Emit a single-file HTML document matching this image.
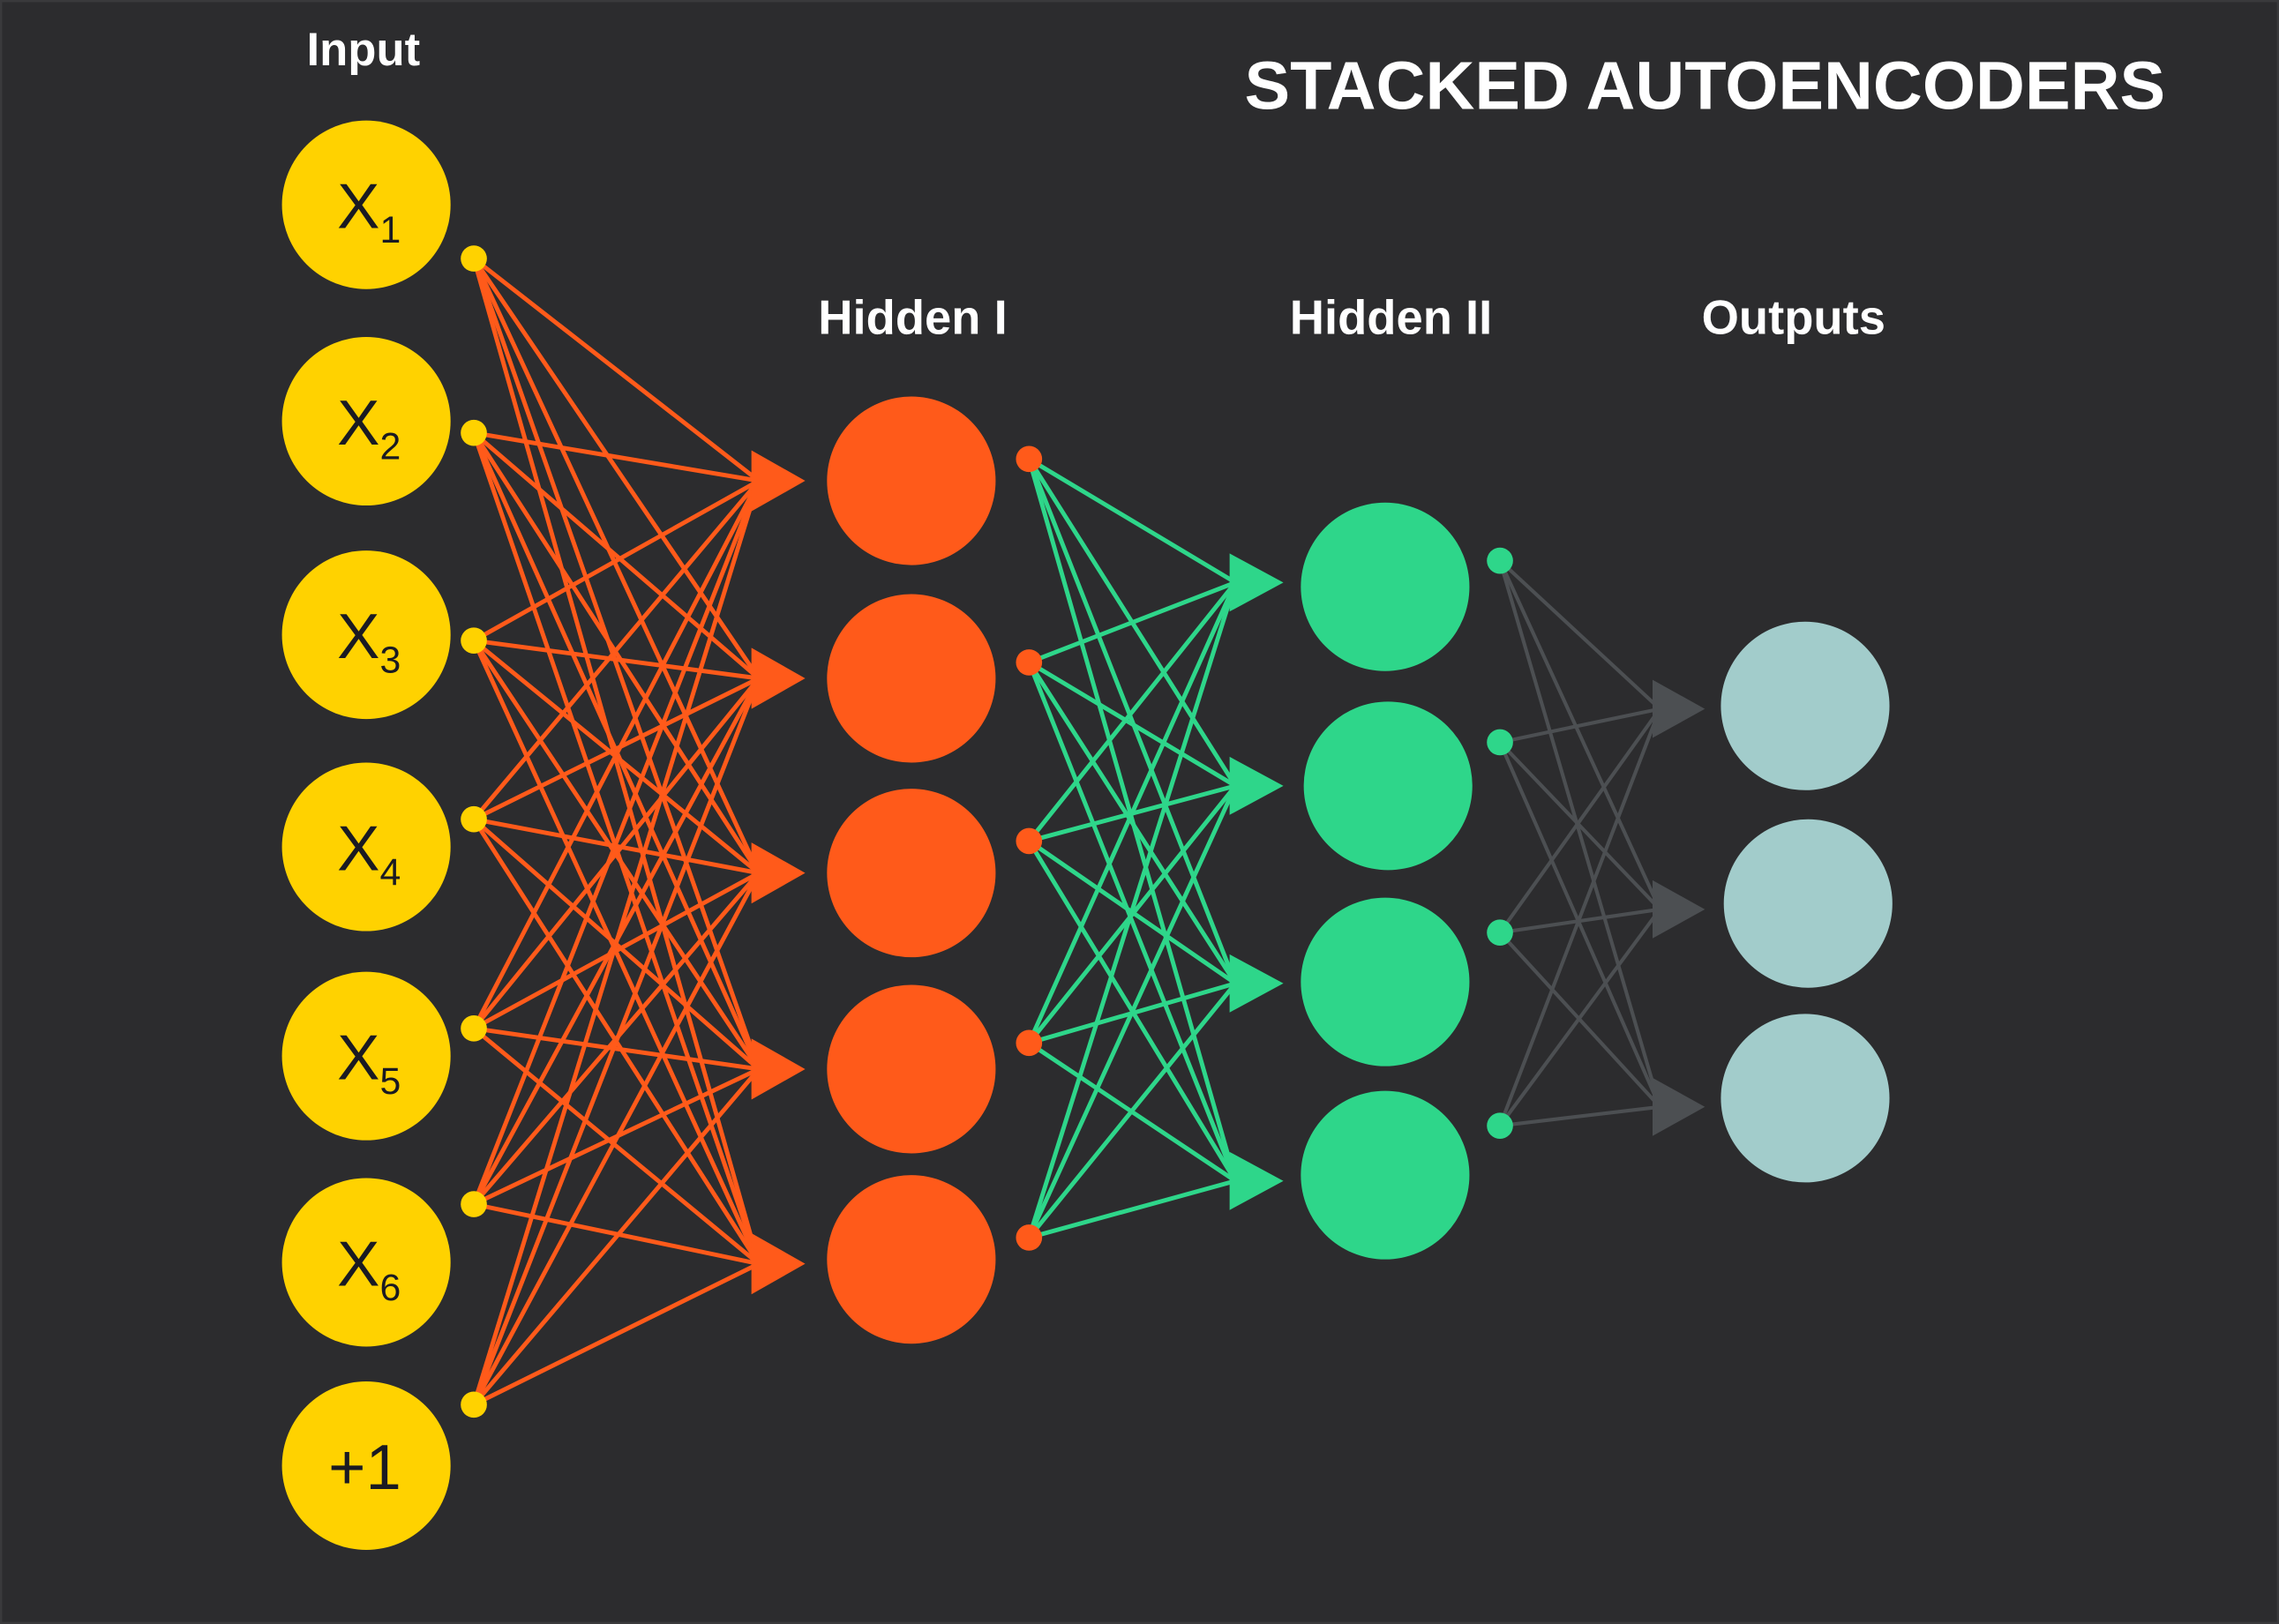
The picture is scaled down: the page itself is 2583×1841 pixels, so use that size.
<!DOCTYPE html>
<html><head><meta charset="utf-8"><style>
html,body{margin:0;padding:0;background:#2c2c2e;}
svg{display:block;}
text{font-family:"Liberation Sans",sans-serif;}
</style></head><body>
<svg width="2583" height="1841" viewBox="0 0 1568 1118" preserveAspectRatio="none" xmlns="http://www.w3.org/2000/svg">
<rect x="0" y="0" width="1568" height="1118" fill="#2c2c2e"/>
<rect x="0.5" y="0.5" width="1567" height="1117" fill="none" stroke="#3a3a3c" stroke-width="2"/>
<g fill="#fff" font-weight="bold">
<text x="250" y="45" font-size="32" text-anchor="middle">Input</text>
<text x="628" y="230" font-size="33" text-anchor="middle">Hidden I</text>
<text x="957" y="230" font-size="33" text-anchor="middle">Hidden II</text>
<text x="1234" y="230" font-size="33" text-anchor="middle">Outputs</text>
<text x="1173" y="75" font-size="47" text-anchor="middle">STACKED AUTOENCODERS</text>
</g>
<!-- orange lines -->
<g stroke="#ff5a1a" stroke-width="3">
<line x1="326" y1="178" x2="522" y2="331"/><line x1="326" y1="178" x2="522" y2="467"/><line x1="326" y1="178" x2="522" y2="601"/><line x1="326" y1="178" x2="522" y2="736"/><line x1="326" y1="178" x2="522" y2="870"/>
<line x1="326" y1="298" x2="522" y2="331"/><line x1="326" y1="298" x2="522" y2="467"/><line x1="326" y1="298" x2="522" y2="601"/><line x1="326" y1="298" x2="522" y2="736"/><line x1="326" y1="298" x2="522" y2="870"/>
<line x1="326" y1="441" x2="522" y2="331"/><line x1="326" y1="441" x2="522" y2="467"/><line x1="326" y1="441" x2="522" y2="601"/><line x1="326" y1="441" x2="522" y2="736"/><line x1="326" y1="441" x2="522" y2="870"/>
<line x1="326" y1="564" x2="522" y2="331"/><line x1="326" y1="564" x2="522" y2="467"/><line x1="326" y1="564" x2="522" y2="601"/><line x1="326" y1="564" x2="522" y2="736"/><line x1="326" y1="564" x2="522" y2="870"/>
<line x1="326" y1="708" x2="522" y2="331"/><line x1="326" y1="708" x2="522" y2="467"/><line x1="326" y1="708" x2="522" y2="601"/><line x1="326" y1="708" x2="522" y2="736"/><line x1="326" y1="708" x2="522" y2="870"/>
<line x1="326" y1="829" x2="522" y2="331"/><line x1="326" y1="829" x2="522" y2="467"/><line x1="326" y1="829" x2="522" y2="601"/><line x1="326" y1="829" x2="522" y2="736"/><line x1="326" y1="829" x2="522" y2="870"/>
<line x1="326" y1="967" x2="522" y2="331"/><line x1="326" y1="967" x2="522" y2="467"/><line x1="326" y1="967" x2="522" y2="601"/><line x1="326" y1="967" x2="522" y2="736"/><line x1="326" y1="967" x2="522" y2="870"/>
</g>
<g fill="#ff5a1a">
<polygon points="517,310 554,331 517,352"/><polygon points="517,446 554,467 517,488"/><polygon points="517,580 554,601 517,622"/><polygon points="517,715 554,736 517,757"/><polygon points="517,849 554,870 517,891"/>
</g>
<!-- green lines -->
<g stroke="#2ed68a" stroke-width="3">
<line x1="708" y1="316" x2="850" y2="401"/><line x1="708" y1="316" x2="850" y2="541"/><line x1="708" y1="316" x2="850" y2="677"/><line x1="708" y1="316" x2="850" y2="813"/>
<line x1="708" y1="456" x2="850" y2="401"/><line x1="708" y1="456" x2="850" y2="541"/><line x1="708" y1="456" x2="850" y2="677"/><line x1="708" y1="456" x2="850" y2="813"/>
<line x1="708" y1="579" x2="850" y2="401"/><line x1="708" y1="579" x2="850" y2="541"/><line x1="708" y1="579" x2="850" y2="677"/><line x1="708" y1="579" x2="850" y2="813"/>
<line x1="708" y1="718" x2="850" y2="401"/><line x1="708" y1="718" x2="850" y2="541"/><line x1="708" y1="718" x2="850" y2="677"/><line x1="708" y1="718" x2="850" y2="813"/>
<line x1="708" y1="852" x2="850" y2="401"/><line x1="708" y1="852" x2="850" y2="541"/><line x1="708" y1="852" x2="850" y2="677"/><line x1="708" y1="852" x2="850" y2="813"/>
</g>
<g fill="#2ed68a">
<polygon points="846,381 883,401 846,421"/><polygon points="846,521 883,541 846,561"/><polygon points="846,657 883,677 846,697"/><polygon points="846,793 883,813 846,833"/>
</g>
<!-- gray lines -->
<g stroke="#4c4f52" stroke-width="2.5">
<line x1="1032" y1="386" x2="1142" y2="488"/><line x1="1032" y1="386" x2="1142" y2="626"/><line x1="1032" y1="386" x2="1142" y2="762"/>
<line x1="1032" y1="511" x2="1142" y2="488"/><line x1="1032" y1="511" x2="1142" y2="626"/><line x1="1032" y1="511" x2="1142" y2="762"/>
<line x1="1032" y1="642" x2="1142" y2="488"/><line x1="1032" y1="642" x2="1142" y2="626"/><line x1="1032" y1="642" x2="1142" y2="762"/>
<line x1="1032" y1="775" x2="1142" y2="488"/><line x1="1032" y1="775" x2="1142" y2="626"/><line x1="1032" y1="775" x2="1142" y2="762"/>
</g>
<g fill="#4c4f52">
<polygon points="1137,468 1173,488 1137,508"/><polygon points="1137,606 1173,626 1137,646"/><polygon points="1137,742 1173,762 1137,782"/>
</g>
<!-- input nodes -->
<g fill="#ffd200">
<circle cx="252" cy="141" r="58"/><circle cx="252" cy="290" r="58"/><circle cx="252" cy="437" r="58"/><circle cx="252" cy="583" r="58"/><circle cx="252" cy="727" r="58"/><circle cx="252" cy="869" r="58"/><circle cx="252" cy="1009" r="58"/>
<circle cx="326" cy="178" r="9"/><circle cx="326" cy="298" r="9"/><circle cx="326" cy="441" r="9"/><circle cx="326" cy="564" r="9"/><circle cx="326" cy="708" r="9"/><circle cx="326" cy="829" r="9"/><circle cx="326" cy="967" r="9"/>
</g>
<g fill="#1a1a22" font-size="44">
<text x="232" y="157">X<tspan font-size="26" dy="10">1</tspan></text>
<text x="232" y="306">X<tspan font-size="26" dy="10">2</tspan></text>
<text x="232" y="453">X<tspan font-size="26" dy="10">3</tspan></text>
<text x="232" y="599">X<tspan font-size="26" dy="10">4</tspan></text>
<text x="232" y="743">X<tspan font-size="26" dy="10">5</tspan></text>
<text x="232" y="885">X<tspan font-size="26" dy="10">6</tspan></text>
<text x="251" y="1025" text-anchor="middle">+1</text>
</g>
<g fill="#ff5a1a">
<circle cx="627" cy="331" r="58"/><circle cx="627" cy="467" r="58"/><circle cx="627" cy="601" r="58"/><circle cx="627" cy="736" r="58"/><circle cx="627" cy="867" r="58"/>
<circle cx="708" cy="316" r="9"/><circle cx="708" cy="456" r="9"/><circle cx="708" cy="579" r="9"/><circle cx="708" cy="718" r="9"/><circle cx="708" cy="852" r="9"/>
</g>
<g fill="#2ed68a">
<circle cx="953" cy="404" r="58"/><circle cx="955" cy="541" r="58"/><circle cx="953" cy="676" r="58"/><circle cx="953" cy="809" r="58"/>
<circle cx="1032" cy="386" r="9"/><circle cx="1032" cy="511" r="9"/><circle cx="1032" cy="642" r="9"/><circle cx="1032" cy="775" r="9"/>
</g>
<g fill="#a2cccb">
<circle cx="1242" cy="486" r="58"/><circle cx="1244" cy="622" r="58"/><circle cx="1242" cy="756" r="58"/>
</g>
</svg>
</body></html>
